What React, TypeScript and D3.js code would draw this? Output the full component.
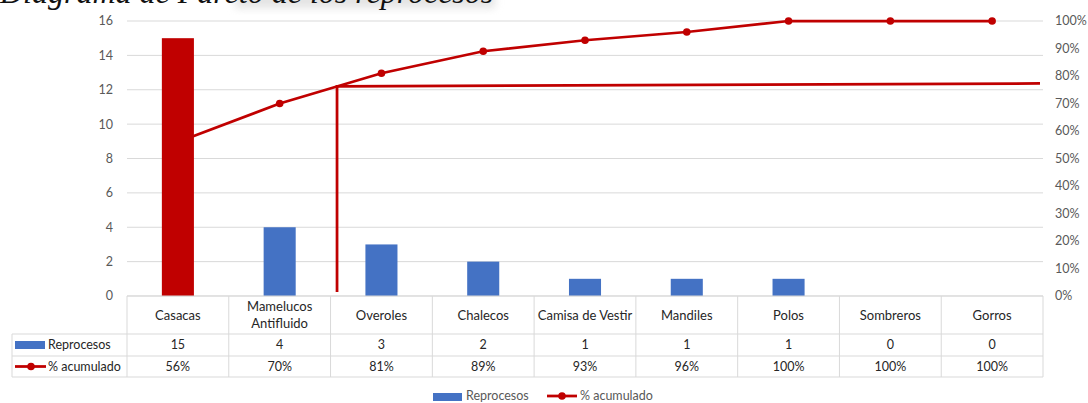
import React from "react";
import * as d3 from "d3";

const categories = ["Casacas", "Mamelucos Antifluido", "Overoles", "Chalecos", "Camisa de Vestir", "Mandiles", "Polos", "Sombreros", "Gorros"];
const categoryLines = [["Casacas"], ["Mamelucos", "Antifluido"], ["Overoles"], ["Chalecos"], ["Camisa de Vestir"], ["Mandiles"], ["Polos"], ["Sombreros"], ["Gorros"]];
const reprocesos = [15, 4, 3, 2, 1, 1, 1, 0, 0];
const acumulado = [0.56, 0.70, 0.81, 0.89, 0.93, 0.96, 1.0, 1.0, 1.0];
const acumuladoLabels = ["56%", "70%", "81%", "89%", "93%", "96%", "100%", "100%", "100%"];
const highlighted = ["Casacas"];
const leftTicks = [0, 2, 4, 6, 8, 10, 12, 14, 16];
const rightTicks = [0, 0.1, 0.2, 0.3, 0.4, 0.5, 0.6, 0.7, 0.8, 0.9, 1.0];
const cutoffPct = [0.762, 0.773];
const cutoffBottomPct = 0.015;
const title = "Diagrama de Pareto de los reprocesos";

const W = 1088, H = 403;
const L = 127, R = 1043, T = 21, B = 296;
const RED = "#c00000", BLUE = "#4472c4", GRID = "#d9d9d9";
const FONT = "Lato, 'Open Sans', sans-serif";

export default function App() {
  const x = d3.scaleBand<string>().domain(categories).range([L, R]).padding(0);
  const y = d3.scaleLinear().domain([0, 16]).range([B, T]);
  const yp = d3.scaleLinear().domain([0, 1]).range([B, T]);
  const bw = x.bandwidth();
  const barW = bw * 0.315;
  const cx = (c: string) => (x(c) as number) + bw / 2;

  const line = d3.line<number>().x((_, i) => cx(categories[i])).y((d) => yp(d));

  let cutX = cx(categories[0]);
  for (let i = 0; i < acumulado.length - 1; i++) {
    if (acumulado[i] <= cutoffPct[0] && acumulado[i + 1] >= cutoffPct[0]) {
      const t = (cutoffPct[0] - acumulado[i]) / (acumulado[i + 1] - acumulado[i]);
      cutX = cx(categories[i]) + t * bw;
      break;
    }
  }

  const row0 = B, row1 = 334, row2 = 356, row3 = 377;
  const tableLeft = 12;

  const bars = categories.map((c, i) => (
    <rect key={c} x={cx(c) - barW / 2} y={y(reprocesos[i])} width={barW} height={B - y(reprocesos[i])}
      fill={highlighted.includes(c) ? RED : BLUE} />
  ));

  return (
    <svg width={W} height={H} style={{ position: "absolute", left: 0, top: 0, background: "#fff" }}>
      <defs>
        <filter id="blur" x="-20%" y="-50%" width="140%" height="200%">
          <feGaussianBlur stdDeviation="4" />
        </filter>
      </defs>
      <rect x={235} y={-6} width={260} height={14} fill="#d8d8d8" filter="url(#blur)" opacity={0.7} />
      <text x={0} y={3} fontFamily="'Liberation Serif', serif" fontStyle="italic" fontSize={32} fill="#111">{title}</text>

      {leftTicks.map((t) => (
        <line key={t} x1={L} x2={R} y1={y(t)} y2={y(t)} stroke={GRID} strokeWidth={1} />
      ))}
      {leftTicks.map((t) => (
        <text key={"l" + t} x={113} y={y(t)} dy="0.35em" textAnchor="end" fontFamily={FONT} fontSize={12.5} fill="#595959">{t}</text>
      ))}
      {rightTicks.map((t) => (
        <text key={"r" + t} x={1055} y={yp(t)} dy="0.35em" textAnchor="start" fontFamily={FONT} fontSize={12.5} fill="#595959">{d3.format(".0%")(t)}</text>
      ))}

      <path d={line(acumulado) || ""} fill="none" stroke={RED} strokeWidth={2.75} />
      {acumulado.map((d, i) => (
        <circle key={i} cx={cx(categories[i])} cy={yp(d)} r={3.8} fill={RED} />
      ))}

      {bars}

      <path d={`M${cutX},${yp(cutoffBottomPct)}L${cutX},${yp(cutoffPct[0])}L${R - 3},${yp(cutoffPct[1])}`} fill="none" stroke={RED} strokeWidth={2.75} />

      <g stroke={GRID} strokeWidth={1}>
        <line x1={L} x2={R} y1={row0} y2={row0} />
        <line x1={tableLeft} x2={R} y1={row1} y2={row1} />
        <line x1={tableLeft} x2={R} y1={row2} y2={row2} />
        <line x1={tableLeft} x2={R} y1={row3} y2={row3} />
        <line x1={tableLeft} x2={tableLeft} y1={row1} y2={row3} />
        {categories.map((c) => (
          <line key={c} x1={x(c) as number} x2={x(c) as number} y1={row0} y2={row3} />
        ))}
        <line x1={R} x2={R} y1={row0} y2={row3} />
      </g>
      {categoryLines.map((lines, i) => (
        <text key={"c" + i} x={cx(categories[i])} textAnchor="middle" fontFamily={FONT} fontSize={13} fill="#262626">
          {lines.map((ln, j) => (
            <tspan key={j} x={cx(categories[i])} y={(row0 + row1) / 2 + (j - (lines.length - 1) / 2) * 17} dy="0.35em">{ln}</tspan>
          ))}
        </text>
      ))}
      {reprocesos.map((v, i) => (
        <text key={"v" + i} x={cx(categories[i])} y={(row1 + row2) / 2} dy="0.35em" textAnchor="middle" fontFamily={FONT} fontSize={12.5} fill="#262626">{v}</text>
      ))}
      {acumuladoLabels.map((v, i) => (
        <text key={"p" + i} x={cx(categories[i])} y={(row2 + row3) / 2} dy="0.35em" textAnchor="middle" fontFamily={FONT} fontSize={12.5} fill="#262626">{v}</text>
      ))}
      <rect x={15} y={341} width={30} height={8} fill={BLUE} />
      <text x={48} y={(row1 + row2) / 2} dy="0.35em" fontFamily={FONT} fontSize={12.5} fill="#262626">Reprocesos</text>
      <line x1={15} x2={46} y1={(row2 + row3) / 2} y2={(row2 + row3) / 2} stroke={RED} strokeWidth={2.75} />
      <circle cx={31} cy={(row2 + row3) / 2} r={3.8} fill={RED} />
      <text x={48} y={(row2 + row3) / 2} dy="0.35em" fontFamily={FONT} fontSize={12.5} fill="#262626">% acumulado</text>

      <rect x={433} y={393} width={29} height={8} fill={BLUE} />
      <text x={466} y={396} dy="0.35em" fontFamily={FONT} fontSize={12.5} fill="#595959">Reprocesos</text>
      <line x1={547} x2={577} y1={396} y2={396} stroke={RED} strokeWidth={2.75} />
      <circle cx={562} cy={396} r={3.8} fill={RED} />
      <text x={580} y={396} dy="0.35em" fontFamily={FONT} fontSize={12.5} fill="#595959">% acumulado</text>
    </svg>
  );
}
